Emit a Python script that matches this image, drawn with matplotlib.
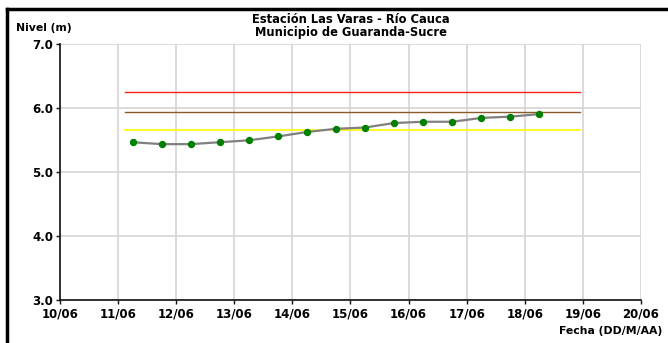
import datetime as dt
import matplotlib
matplotlib.use("Agg")
import matplotlib.pyplot as plt
import matplotlib.dates as mdates
from matplotlib.lines import Line2D

# datos
fechas = ["11/06 06:00", "11/06 18:00", "12/06 06:00", "12/06 18:00",
          "13/06 06:00", "13/06 18:00", "14/06 06:00", "14/06 18:00",
          "15/06 06:00", "15/06 18:00", "16/06 06:00", "16/06 18:00",
          "17/06 06:00", "17/06 18:00", "18/06 06:00"]
nivel = [5.47, 5.44, 5.44, 5.47, 5.50, 5.56, 5.63, 5.68,
         5.70, 5.77, 5.79, 5.79, 5.85, 5.87, 5.91]

umbral_inicio = "11/06 03:00"
umbral_fin = "18/06 23:00"
umbral_rojo = 6.25
umbral_naranja = 5.95
umbral_amarillo = 5.66

x_min, x_max = "10/06 00:00", "20/06 00:00"

titulo = ["Estación Las Varas - Río Cauca", "Municipio de Guaranda-Sucre"]


def to_date(s):
    return dt.datetime.strptime("2011/" + s, "%Y/%d/%m %H:%M")


x = [to_date(f) for f in fechas]

fig = plt.figure(figsize=(6.68, 3.43), dpi=100)
ax = fig.add_axes([0.0898, 0.1245, 0.8698, 0.7463])

ax.set_xlim(to_date(x_min), to_date(x_max))
ax.set_ylim(3.0, 7.0)

ax.grid(True, color="#d4d4d4", linewidth=1.2)
ax.set_axisbelow(True)

u0, u1 = to_date(umbral_inicio), to_date(umbral_fin)
ax.plot([u0, u1], [umbral_rojo] * 2, color="#ff2020", lw=1.0)
ax.plot([u0, u1], [umbral_naranja] * 2, color="#8b5a2b", lw=1.0)
ax.plot([u0, u1], [umbral_amarillo] * 2, color="#ffff00", lw=1.2)

ax.plot(x, nivel, color="#808080", lw=1.6, zorder=3)
ax.plot(x, nivel, "o", color="#008000", ms=4.3, zorder=4)

ax.xaxis.set_major_locator(mdates.DayLocator())
ax.xaxis.set_major_formatter(mdates.DateFormatter("%d/%m"))
ax.set_yticks([3, 4, 5, 6, 7])
ax.yaxis.set_major_formatter(plt.FormatStrFormatter("%.1f"))

for s in ["top", "right"]:
    ax.spines[s].set_visible(False)
for s in ["left", "bottom"]:
    ax.spines[s].set_color("#111111")
    ax.spines[s].set_linewidth(1.2)

ax.tick_params(length=3, width=1, pad=2, color="#111111")
for lab in ax.get_xticklabels() + ax.get_yticklabels():
    lab.set_fontweight("bold")
    lab.set_fontsize(8.5)

fig.text(0.5255, 0.942, titulo[0], ha="center", va="center",
         fontsize=8.3, fontweight="bold")
fig.text(0.5255, 0.904, titulo[1], ha="center", va="center",
         fontsize=8.3, fontweight="bold")
fig.text(0.024, 0.918, "Nivel (m)", ha="left", va="center",
         fontsize=7.8, fontweight="bold")
fig.text(0.991, 0.035, "Fecha (DD/M/AA)", ha="right", va="center",
         fontsize=7.8, fontweight="bold")

# marco del grafico (solo se ven el borde superior e izquierdo)
fig.add_artist(Line2D([0.010, 1.0], [0.974, 0.974], color="black", lw=2.5,
                      transform=fig.transFigure))
fig.add_artist(Line2D([0.011, 0.011], [0.0, 0.974], color="black", lw=2.5,
                      transform=fig.transFigure))

fig.savefig("out.png", dpi=100)
